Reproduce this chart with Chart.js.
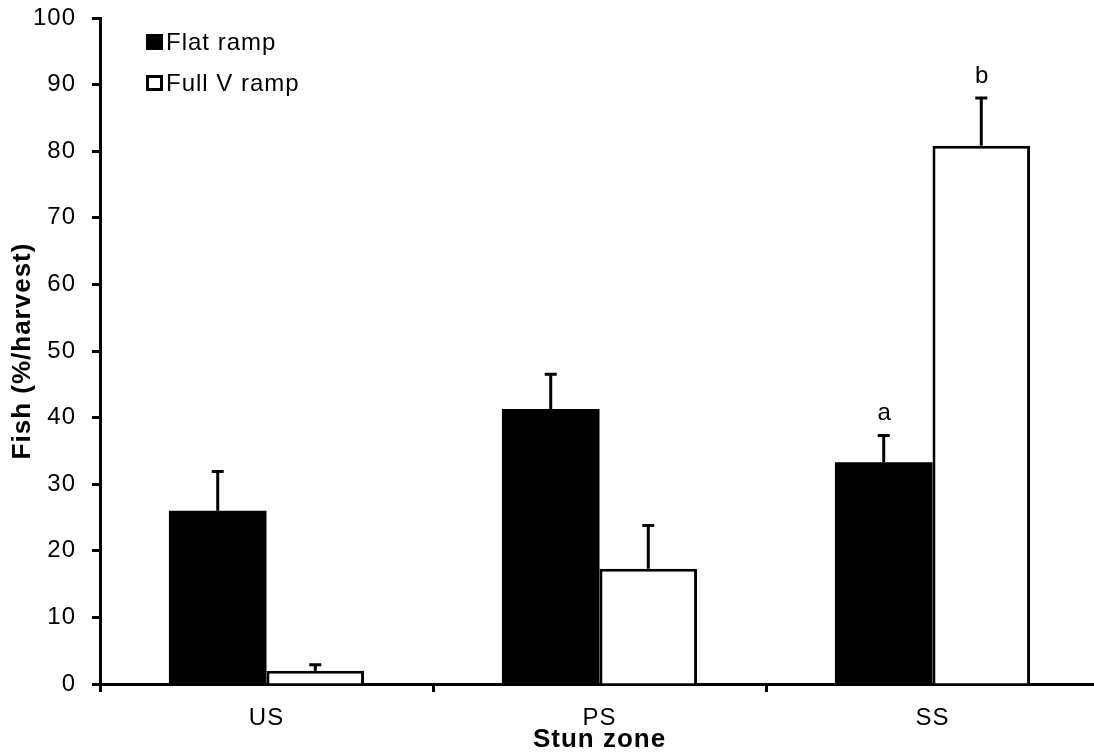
<!DOCTYPE html>
<html>
<head>
<meta charset="utf-8">
<title>Stun zone</title>
<script src="https://cdn.jsdelivr.net/npm/chart.js@4/dist/chart.umd.min.js"></script>
<style>
  html, body { margin: 0; padding: 0; background: #fff; overflow: hidden; }
  canvas { display: block; }
</style>
</head>
<body>
<canvas id="barChart" width="1100" height="755"></canvas>
<script>
// stun zone categories and % of harvest per ramp type (mean + SE)
const zones = ['US', 'PS', 'SS'];
const flatRamp = [26.0, 41.3, 33.3];
const flatRampErr = [5.9, 5.2, 4.0];
const fullVRamp = [2.0, 17.3, 80.8];
const fullVRampErr = [0.9, 6.5, 7.2];
// significance letters above the error bars
const flatRampLetters = ['', '', 'a'];
const fullVRampLetters = ['', '', 'b'];
// y axis range
const yMin = 0;
const yMax = 100;
const yStep = 10;

const FONT = '"Liberation Sans", Arial, Helvetica, sans-serif';
Chart.defaults.font.family = FONT;
Chart.defaults.color = '#000';

// text in this figure is set a little loose
const spacing = {
    id: 'spacing',
    beforeUpdate(chart) { chart.ctx.letterSpacing = '1px'; },
    beforeDraw(chart) { chart.ctx.letterSpacing = '1px'; },
};

// upper error whiskers + letters
const errorBars = {
    id: 'errorBars',
    afterDatasetsDraw(chart) {
        const ctx = chart.ctx;
        const y = chart.scales.y;
        const errs = [flatRampErr, fullVRampErr];
        const letters = [flatRampLetters, fullVRampLetters];
        ctx.save();
        ctx.strokeStyle = '#000';
        ctx.fillStyle = '#000';
        ctx.lineWidth = 3;
        ctx.font = '24px ' + FONT;
        ctx.textAlign = 'center';
        ctx.textBaseline = 'middle';
        chart.data.datasets.forEach((ds, i) => {
            const meta = chart.getDatasetMeta(i);
            meta.data.forEach((bar, j) => {
                const top = y.getPixelForValue(ds.data[j] + errs[i][j]);
                ctx.beginPath();
                ctx.moveTo(bar.x, bar.y);
                ctx.lineTo(bar.x, top);
                ctx.moveTo(bar.x - 6, top);
                ctx.lineTo(bar.x + 6, top);
                ctx.stroke();
                if (letters[i][j]) {
                    ctx.fillText(letters[i][j], bar.x + 1, top - 22);
                }
            });
        });
        ctx.restore();
    },
};

// legend sits inside the plot, top left
const innerLegend = {
    id: 'innerLegend',
    afterDraw(chart) {
        const ctx = chart.ctx;
        ctx.save();
        ctx.font = '24px ' + FONT;
        ctx.textAlign = 'left';
        ctx.textBaseline = 'middle';
        chart.data.datasets.forEach((ds, i) => {
            const cy = 42 + i * 41;
            ctx.fillStyle = '#000';
            ctx.fillRect(146, cy - 8, 17, 16);
            if (ds.backgroundColor !== '#000') {
                ctx.fillStyle = ds.backgroundColor;
                ctx.fillRect(149, cy - 5, 11, 10);
            }
            ctx.fillStyle = '#000';
            ctx.fillText(ds.label, 166, cy + 1);
        });
        ctx.restore();
    },
};

const ctx = document.getElementById('barChart').getContext('2d');
const barChart = new Chart(ctx, {
    type: 'bar',
    data: {
        labels: zones,
        datasets: [{
            label: 'Flat ramp',
            data: flatRamp,
            backgroundColor: '#000',
            borderWidth: 0,
        }, {
            label: 'Full V ramp',
            data: fullVRamp,
            backgroundColor: '#fff',
            borderColor: '#000',
            borderWidth: 3,
        }],
    },
    options: {
        responsive: false,
        animation: false,
        categoryPercentage: 0.586,
        barPercentage: 1,
        layout: { padding: { left: 0, top: 18, right: 1, bottom: 0 } },
        plugins: {
            legend: { display: false },
            tooltip: { enabled: false },
        },
        scales: {
            x: {
                grid: {
                    offset: true,
                    drawOnChartArea: false,
                    tickLength: 8,
                    tickWidth: 3,
                    tickColor: '#000',
                },
                border: { color: '#000', width: 3 },
                ticks: { font: { size: 24 }, padding: 12 },
                title: {
                    display: true,
                    text: 'Stun zone',
                    font: { size: 26, weight: 'bold' },
                    padding: { top: 0, bottom: 0 },
                },
                afterFit(scale) { scale.height = 71; },
            },
            y: {
                min: yMin,
                max: yMax,
                grid: {
                    drawOnChartArea: false,
                    tickLength: 8,
                    tickWidth: 3,
                    tickColor: '#000',
                },
                border: { color: '#000', width: 3 },
                ticks: { stepSize: yStep, font: { size: 24 }, padding: 16 },
                title: {
                    display: true,
                    text: 'Fish (%/harvest)',
                    font: { size: 26, weight: 'bold' },
                    padding: { top: 7, bottom: 0 },
                },
                afterFit(scale) {
                    scale.width = 100;
                    // keep the plot top pinned by layout padding alone
                    scale.paddingTop = 0;
                    scale.paddingBottom = 0;
                },
            },
        },
    },
    plugins: [spacing, errorBars, innerLegend],
});
</script>
</body>
</html>
